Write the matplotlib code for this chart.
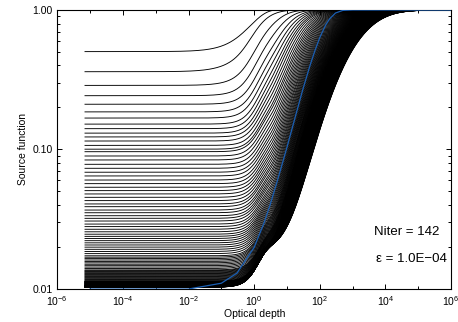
import math
import numpy as np
import matplotlib
matplotlib.use("Agg")
import matplotlib.pyplot as plt
from matplotlib.ticker import FixedLocator, FixedFormatter, NullFormatter

# run parameters shown on the figure
eps = 1.0e-4
n_iter = 142

# optical depth range covered by the curves
tau_min = 7.0e-6
tau_max = 1.0e6

# surface (plateau) value of the first 40 iterations
plateau_read = [0.503, 0.361, 0.288, 0.243, 0.211, 0.186, 0.168, 0.152,
                0.141, 0.131, 0.123, 0.115, 0.107, 0.1005, 0.0964, 0.0898,
                0.0841, 0.0783, 0.0733, 0.0687, 0.0646, 0.0604, 0.0569,
                0.0536, 0.0507, 0.0480, 0.0454, 0.0430, 0.0407, 0.0389,
                0.0368, 0.0352, 0.0335, 0.0321, 0.0307, 0.0292, 0.0280,
                0.0268, 0.0257, 0.0247]
# later iterations pile up in the dark band near the bottom (estimated)
tail_n = [40, 50, 60, 75, 100, 142]
tail_plateau = [0.0247, 0.0173, 0.0137, 0.0114, 0.0105, 0.0103]

# shape of the iterates, estimated at a few iteration numbers
shape_n = [1, 2, 3, 5, 10, 20, 40, 80, 142]
# rise just below the surface: factor (1 + gain), reached near surf_tau
surf_gain = [1.0, 1.0, 0.8, 0.6, 0.45, 0.4, 0.45, 0.6, 0.85]
surf_tau = [1.0, 1.0, 1.1, 1.2, 1.3, 1.4, 1.4, 1.4, 1.5]
surf_power = [1.0, 1.0, 1.2, 1.5, 1.8, 2.0, 2.0, 2.0, 2.0]
# deep front: centre (log10 tau) and width (dex) of the climb to B
front_logtau = [1.5, 0.3, 0.5, 0.8, 1.15, 1.6, 2.1, 2.6, 2.98]
front_width = [0.4, 0.4, 0.45, 0.5, 0.55, 0.62, 0.7, 0.78, 0.84]

# blue reference curve
ref_tau = [1e-5, 1e-2, 0.1, 0.3, 1, 2, 3, 5, 10, 20, 30, 50, 70, 100,
           150, 200, 300, 500, 1000, 1e6]
ref_S = [0.0100, 0.0100, 0.0110, 0.0130, 0.0199, 0.0298, 0.0396, 0.0589,
         0.104, 0.189, 0.267, 0.399, 0.507, 0.636, 0.779, 0.866, 0.951,
         0.993, 1.0, 1.0]

# tick labels
xtick_vals = [1e-6, 1e-4, 1e-2, 1e0, 1e2, 1e4, 1e6]
xtick_text = ["$10^{-6}$", "$10^{-4}$", "$10^{-2}$", "$10^{0}$",
              "$10^{2}$", "$10^{4}$", "$10^{6}$"]
ytick_vals = [0.01, 0.1, 1.0]
ytick_text = ["0.01", "0.10", "1.00"]


def per_iteration(values):
    n = np.arange(1, n_iter + 1)
    return np.interp(np.log(n), np.log(shape_n), values)


def iterates(tau):
    n = np.arange(1, n_iter + 1)
    tail = np.exp(np.interp(n[len(plateau_read):], tail_n, np.log(tail_plateau)))
    plateau = np.concatenate([plateau_read, tail])
    gain = per_iteration(surf_gain)
    t_rise = per_iteration(surf_tau)
    power = per_iteration(surf_power)
    mu = per_iteration(front_logtau)
    sig = per_iteration(front_width)
    logtau = np.log10(tau)
    curves = []
    for k in range(n_iter):
        near = plateau[k] * (1 + gain[k] * (1 - np.exp(-(tau / t_rise[k]) ** power[k])))
        z = (logtau - mu[k]) / (sig[k] * math.sqrt(2))
        deep = 0.5 * (1 + np.array([math.erf(v) for v in z]))
        curves.append(1 - (1 - near) * (1 - deep))
    return curves


plt.rcParams["font.family"] = ["Liberation Sans", "DejaVu Sans"]
plt.rcParams["mathtext.fontset"] = "custom"
plt.rcParams["mathtext.rm"] = "Liberation Sans"
plt.rcParams["mathtext.it"] = "Liberation Sans:italic"

tau = np.logspace(np.log10(tau_min), np.log10(tau_max), 500)

fig = plt.figure(figsize=(4.58, 3.22), dpi=100)
ax = fig.add_axes([0.125, 0.1025, 0.86, 0.8665])

for S in iterates(tau):
    ax.plot(tau, S, color="black", lw=0.65)
ax.plot(ref_tau, ref_S, color="#1a5fb4", lw=0.9, zorder=3)

ax.set_xscale("log")
ax.set_yscale("log")
ax.set_xlim(1e-6, 1e6)
ax.set_ylim(0.01, 1.0)

ax.xaxis.set_major_locator(FixedLocator(xtick_vals))
ax.xaxis.set_major_formatter(FixedFormatter(xtick_text))
ax.xaxis.set_minor_locator(FixedLocator([1e-5, 1e-3, 1e-1, 1e1, 1e3, 1e5]))
ax.xaxis.set_minor_formatter(NullFormatter())
ax.yaxis.set_major_locator(FixedLocator(ytick_vals))
ax.yaxis.set_major_formatter(FixedFormatter(ytick_text))
minor_y = [m * d for d in (0.01, 0.1) for m in range(2, 10)]
ax.yaxis.set_minor_locator(FixedLocator(minor_y))
ax.yaxis.set_minor_formatter(NullFormatter())

ax.tick_params(which="both", direction="in", top=True, right=True,
               labelsize=7.5, width=0.7)
ax.tick_params(which="major", length=3.5)
ax.tick_params(which="minor", length=2)
for sp in ax.spines.values():
    sp.set_linewidth(0.8)

ax.set_xlabel("Optical depth", fontsize=7.5, labelpad=1)
ax.set_ylabel("Source function", fontsize=7.5, labelpad=3)

ax.text(0.805, 0.195, "Niter = %d" % n_iter, transform=ax.transAxes,
        fontsize=9.5)
ax.text(0.808, 0.095, "\u03b5 = %.1fE\u2212%02d" % (eps / 1e-4, 4),
        transform=ax.transAxes, fontsize=9.5)

fig.savefig("out.png", dpi=100)
